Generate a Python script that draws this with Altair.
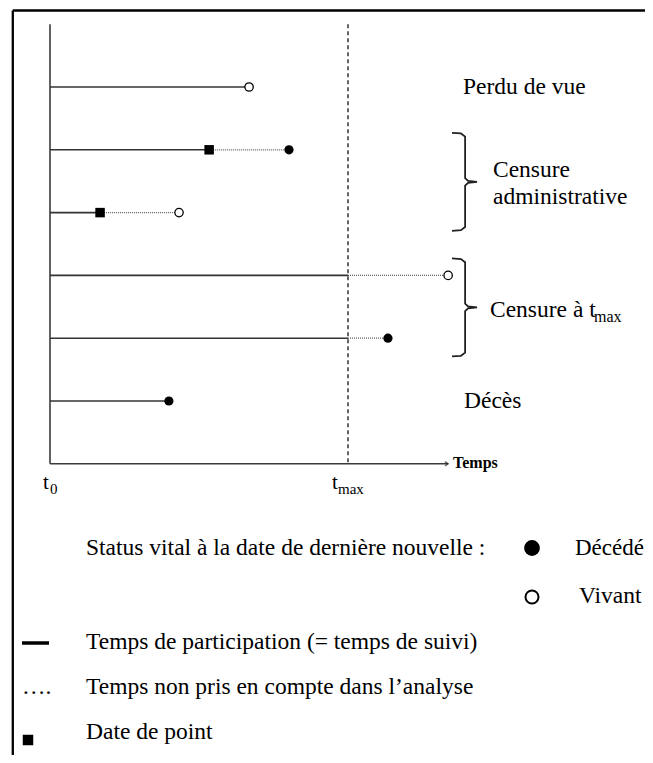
import altair as alt
import pandas as pd

# ---------------- data ----------------
rows = [1, 2, 3, 4, 5, 6]
end_participation = [66.8, 53.4, 16.8, 100, 100, 39.9]   # end of counted follow-up
last_news = [66.8, 80.2, 43.3, 133.6, 113.4, 39.9]       # date of last news
status = ["Vivant", "Décédé", "Vivant", "Vivant", "Décédé", "Décédé"]
point_date = [False, True, True, False, False, False]    # square = date de point
t_max = 100
time_axis_end = 133.6

group_labels = ["Perdu de vue", "Censure", "administrative", "Censure à t", "max", "Décès"]
legend_labels = ["Status vital à la date de dernière nouvelle :", "Décédé", "Vivant",
                 "Temps de participation (= temps de suivi)",
                 "Temps non pris en compte dans l\u2019analyse", "Date de point"]
brace_groups = [(2, 3), (4, 5)]

# ---------------- layout ----------------
FONT = "Liberation Serif"
OFF = 8  # page margin
X = alt.Scale(domain=[0, 100], range=[50 - OFF, 348 - OFF])
Y = alt.Scale(domain=[1, 6], range=[87 - OFF, 401 - OFF])
ONE = pd.DataFrame({"_": [0]})

df = pd.DataFrame({"row": rows, "end": end_participation, "last": last_news,
                   "status": status, "point": point_date})
df["start"] = 0.0

def xq(f):
    return alt.X(f, type="quantitative", scale=X, axis=None)

def yq(f):
    return alt.Y(f, type="quantitative", scale=Y, axis=None)

layers = []

# frame
layers.append(alt.Chart(ONE).mark_rule(color="black", strokeWidth=2.3).encode(
    x=alt.value(12.8 - OFF), y=alt.value(10.5 - OFF), y2=alt.value(755)))
layers.append(alt.Chart(ONE).mark_rule(color="black", strokeWidth=2.3).encode(
    x=alt.value(12.8 - OFF), x2=alt.value(645), y=alt.value(10.5 - OFF)))

# axes
axes_df = pd.DataFrame({"x0": [0], "x1": [time_axis_end], "y0": [0], "y1": [7], "tm": [t_max]})
layers.append(alt.Chart(axes_df).mark_rule(color="#3a3a3a", strokeWidth=1.6).encode(
    x=xq("x0"), y=yq("y0"), y2="y1"))
layers.append(alt.Chart(axes_df).mark_rule(color="#3a3a3a", strokeWidth=1.6).encode(
    x=xq("x0"), x2="x1", y=yq("y1")))
layers.append(alt.Chart(axes_df).mark_point(
    shape="M-1,-0.7L0,0L-1,0.7", filled=False, stroke="#222", strokeWidth=1.4, size=40).encode(
    x=xq("x1"), y=yq("y1")))
layers.append(alt.Chart(axes_df).mark_rule(color="black", strokeWidth=1.2, strokeDash=[4, 3]).encode(
    x=xq("tm"), y=yq("y0"), y2="y1"))

# participation (solid)
layers.append(alt.Chart(df).mark_rule(color="#333", strokeWidth=1.6).encode(
    x=xq("start"), x2="end", y=yq("row")))
# time not counted (dotted)
layers.append(alt.Chart(df).transform_filter("datum.last > datum.end").mark_rule(
    color="#666", strokeWidth=1.2, strokeDash=[1, 1]).encode(
    x=xq("end"), x2="last", y=yq("row")))
# date de point
layers.append(alt.Chart(df).transform_filter("datum.point").mark_point(
    shape="square", filled=True, color="black", size=90, opacity=1).encode(
    x=xq("end"), y=yq("row")))
# vital status
layers.append(alt.Chart(df).transform_filter("datum.status == 'Décédé'").mark_point(
    shape="circle", filled=True, color="black", size=85, opacity=1).encode(
    x=xq("last"), y=yq("row")))
layers.append(alt.Chart(df).transform_filter("datum.status == 'Vivant'").mark_point(
    shape="circle", filled=True, fill="white", stroke="black", strokeWidth=1.3, size=70, opacity=1).encode(
    x=xq("last"), y=yq("row")))

# braces
pts = []
for gi, (a, b) in enumerate(brace_groups):
    t, bt = a - 0.27, b + 0.29
    m = (t + bt) / 2
    shape = [(134.9, t), (137.9, t + 0.01), (139.3, t + 0.06), (139.3, m - 0.06),
             (140.3, m - 0.015), (143.3, m), (140.3, m + 0.015), (139.3, m + 0.06),
             (139.3, bt - 0.06), (137.9, bt - 0.01), (134.9, bt)]
    for k, (xx, yy) in enumerate(shape):
        pts.append({"g": gi, "k": k, "bx": xx, "by": yy})
brace_df = pd.DataFrame(pts)
layers.append(alt.Chart(brace_df).mark_line(color="#222", strokeWidth=1.8).encode(
    x=xq("bx"), y=yq("by"), detail="g:N", order="k:Q"))

def txt(s, x, y, size=23.5, weight="normal"):
    return alt.Chart(ONE).mark_text(text=s, font=FONT, fontSize=size, fontWeight=weight,
                                    align="left", baseline="alphabetic", color="black").encode(
        x=alt.value(x - OFF), y=alt.value(y - OFF))

# group labels
layers += [
    txt(group_labels[0], 463, 94),
    txt(group_labels[1], 493, 177),
    txt(group_labels[2], 493, 204),
    txt(group_labels[3], 490, 317),
    txt(group_labels[4], 594, 322, size=16),
    txt(group_labels[5], 464, 408),
]
# axis labels
layers += [
    txt("t", 43, 489, size=21), txt("0", 50, 494, size=15),
    txt("t", 332, 489, size=21), txt("max", 338, 494, size=15),
    txt("Temps", 453, 468, size=16, weight="bold"),
]
# legend
layers += [
    txt(legend_labels[0], 86, 555),
    txt(legend_labels[1], 575, 555, size=23),
    txt(legend_labels[2], 579, 603),
    txt(legend_labels[3], 86, 649),
    txt(legend_labels[4], 86, 694),
    txt(legend_labels[5], 86, 739),
    txt("\u2026.", 22, 694),
]
layers.append(alt.Chart(ONE).mark_point(shape="circle", filled=True, color="black", size=250, opacity=1).encode(
    x=alt.value(532 - OFF), y=alt.value(548 - OFF)))
layers.append(alt.Chart(ONE).mark_point(shape="circle", filled=False, color="black", strokeWidth=2,
                                        size=170, opacity=1).encode(
    x=alt.value(532 - OFF), y=alt.value(597 - OFF)))
layers.append(alt.Chart(ONE).mark_rule(color="black", strokeWidth=3.5).encode(
    x=alt.value(22 - OFF), x2=alt.value(49 - OFF), y=alt.value(643 - OFF)))
layers.append(alt.Chart(ONE).mark_point(shape="square", filled=True, color="black", size=110, opacity=1).encode(
    x=alt.value(28 - OFF), y=alt.value(740 - OFF)))

chart = alt.layer(*layers).properties(
    width=637, height=747, padding=0,
    autosize=alt.AutoSizeParams(type="none"),
    background="white",
).configure_view(stroke=None)

chart.save("out.html", embed_options={"renderer": "svg", "actions": False})
